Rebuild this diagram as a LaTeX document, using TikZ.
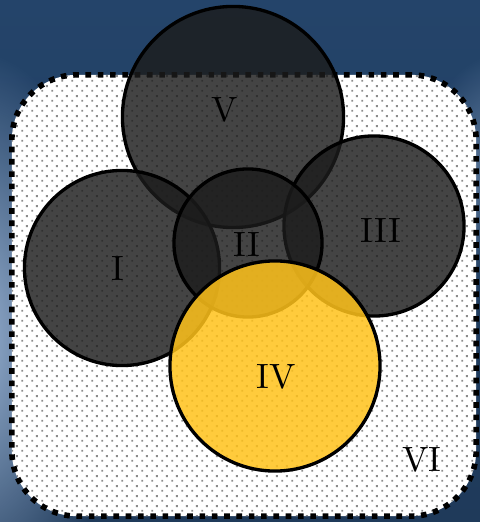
\documentclass[tikz,border=0pt]{standalone}
\usepackage{tikz}
\usetikzlibrary{patterns,fadings}
\definecolor{bgdark}{HTML}{24446A}
\definecolor{bglight}{HTML}{9AB3D3}
\definecolor{setc}{HTML}{1C1C1C}
\definecolor{hilite}{HTML}{FFC21A}
% staggered dot grid, 10px apart in each row
\pgfdeclarepatternformonly{sparse dots}{\pgfpointorigin}{\pgfqpoint{2.85pt}{2.85pt}}%
  {\pgfqpoint{2.85pt}{2.85pt}}{%
  \pgfpathrectangle{\pgfqpoint{0.4pt}{0.4pt}}{\pgfqpoint{0.6pt}{0.6pt}}
  \pgfpathrectangle{\pgfqpoint{1.825pt}{1.825pt}}{\pgfqpoint{0.6pt}{0.6pt}}
  \pgfusepath{fill}}
\tikzfading[name=glow, inner color=transparent!0, outer color=transparent!100]

\begin{document}
\begin{tikzpicture}[
  x=0.01cm, y=0.01cm,
  universe/.style={rectangle, rounded corners=0.65cm, draw=black,
                   line width=1.6pt, dash pattern=on 1.6pt off 1.9pt,
                   preaction={fill=white},
                   pattern=sparse dots, pattern color=gray!90,
                   minimum width=4.64cm, minimum height=4.41cm},
  region/.style={circle, draw=black, line width=0.95pt, fill=setc,
                 fill opacity=0.82, inner sep=0pt, minimum size=#1},
  hiregion/.style={region=#1, fill=hilite, fill opacity=0.85},
  tag/.style={inner sep=1pt, font=\normalsize}
]
% ---- backdrop (blurred photo) ----
\useasboundingbox (0,0) rectangle (480,-522);
\shade[top color=bgdark, bottom color=bgdark!85!black] (0,0) rectangle (480,-522);
\fill[bglight, path fading=glow] (-30,-340) ellipse [x radius=1.5cm, y radius=2.9cm];
\fill[bglight!60!bgdark, path fading=glow] (510,-170) ellipse [x radius=0.9cm, y radius=1.2cm];
% ---- universe VI ----
\node[universe] (VI) at (244,-295.5) {};
% ---- the five sets ----
\foreach \n/\x/\y/\d in {V/233/117/2.21cm, I/122/268/1.95cm,
                         III/374/226/1.80cm, II/248/243/1.48cm}{
  \node[region=\d] (\n) at (\x,-\y) {};
}
\node[hiregion=2.10cm] (IV) at (275,-366) {};
% labels
\node[tag] (lV)   at (225,-110) {V};
\node[tag] (lI)   at (118,-268) {I};
\node[tag] (lII)  at (247,-244) {II};
\node[tag] (lIII) at (381,-230) {III};
\node[tag] (lIV)  at (276,-377) {IV};
\node[tag] (lVI)  at (422,-460) {VI};
\end{tikzpicture}
\end{document}
